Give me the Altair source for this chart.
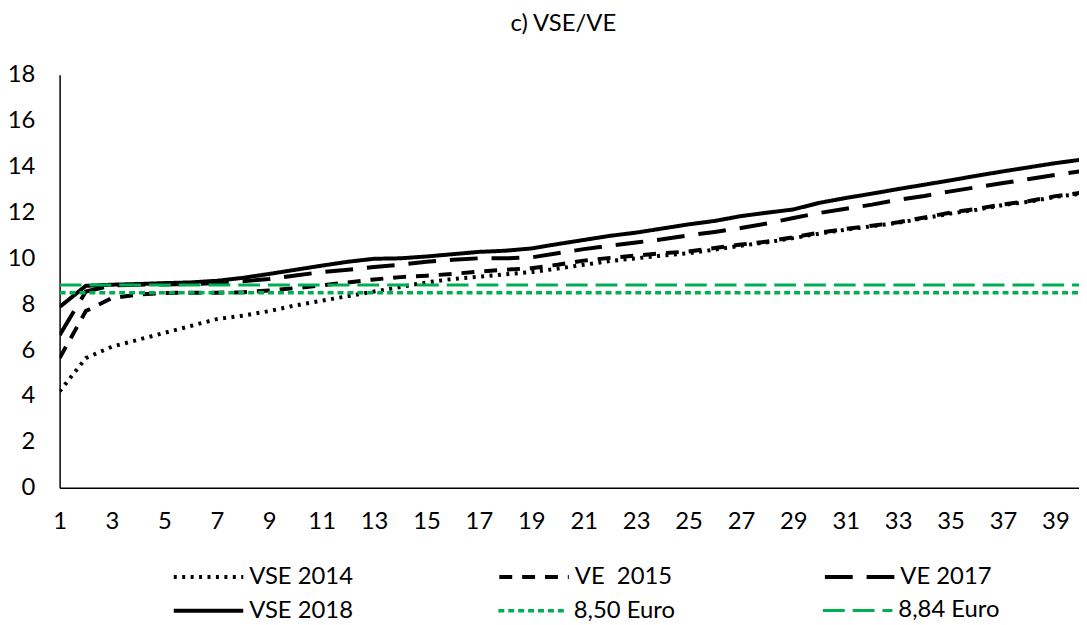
import altair as alt
import pandas as pd

# ---------------- data ----------------
x_vals = list(range(1, 41))
x_ticks = list(range(1, 40, 2))
y_ticks = list(range(0, 19, 2))

row1_names = ["VSE 2014", "VE \u00a02015", "VE 2017"]
row2_names = ["VSE 2018", "8,50 Euro", "8,84 Euro"]

vse_2014 = [4.2, 5.65, 6.15, 6.45, 6.75, 7.05, 7.35, 7.5, 7.7, 7.95,
            8.15, 8.35, 8.55, 8.75, 8.95, 9.1, 9.2, 9.3, 9.4, 9.55,
            9.72, 9.88, 10.0, 10.12, 10.22, 10.38, 10.55, 10.7, 10.88, 11.08,
            11.25, 11.4, 11.55, 11.75, 11.95, 12.12, 12.32, 12.47, 12.68, 12.82]
ve_2015 = [5.65, 7.7, 8.27, 8.42, 8.49, 8.5, 8.5, 8.52, 8.6, 8.7,
           8.82, 8.95, 9.08, 9.18, 9.24, 9.32, 9.42, 9.5, 9.57, 9.72,
           9.9, 10.02, 10.12, 10.22, 10.3, 10.45, 10.6, 10.73, 10.92, 11.12,
           11.28, 11.42, 11.57, 11.78, 11.99, 12.16, 12.35, 12.5, 12.71, 12.86]
ve_2017 = [6.65, 8.55, 8.82, 8.85, 8.86, 8.88, 8.92, 9.0, 9.1, 9.25,
           9.4, 9.5, 9.62, 9.72, 9.85, 9.94, 10.0, 10.0, 10.04, 10.22,
           10.4, 10.55, 10.69, 10.83, 11.0, 11.15, 11.32, 11.52, 11.76, 11.98,
           12.16, 12.34, 12.55, 12.72, 12.92, 13.1, 13.28, 13.46, 13.64, 13.8]
vse_2018 = [7.88, 8.8, 8.85, 8.88, 8.92, 8.95, 9.02, 9.15, 9.32, 9.5,
            9.68, 9.85, 9.98, 10.0, 10.08, 10.18, 10.28, 10.33, 10.43, 10.62,
            10.8, 10.98, 11.12, 11.3, 11.48, 11.63, 11.84, 11.99, 12.13, 12.42,
            12.63, 12.82, 13.02, 13.21, 13.4, 13.6, 13.79, 13.97, 14.15, 14.3]
euro_850 = 8.50
euro_884 = 8.84

# ---------------- build tables ----------------
def long_table(names, series_lists, field):
    rows = []
    for s, vals in zip(names, series_lists):
        for xv, yv in zip(x_vals, vals):
            rows.append({field: s, "x": xv, "y": yv})
    return pd.DataFrame(rows)

df1 = long_table(row1_names, [vse_2014, ve_2015, ve_2017], "Reihe1")
df2 = long_table(row2_names, [vse_2018, [euro_850] * len(x_vals), [euro_884] * len(x_vals)], "Reihe2")

FONT = "Lato"
FS = 24
GREEN = "#00B050"

colors1 = ["black", "black", "black"]
dashes1 = [[3, 5.5], [13, 10], [28, 14]]
widths1 = [4, 4, 4]
colors2 = ["black", GREEN, GREEN]
dashes2 = [[1, 0], [6, 4], [22, 8]]
widths2 = [4, 3, 3.5]


def make_legend(y_pos):
    return alt.Legend(
        title=None, orient="none", legendX=113, legendY=y_pos, columns=3,
        direction="horizontal",
        symbolType="stroke", symbolSize=4900, labelFont=FONT, labelFontSize=FS,
        labelColor="black", labelOffset=4, gridAlign="all", columnPadding=139,
        padding=0, labelLimit=300,
    )


x_enc = alt.X("x:Q", scale=alt.Scale(domain=[1, 39.9], nice=False, zero=False),
              axis=alt.Axis(values=x_ticks, format="d", grid=False, ticks=False,
                            domainColor="black", domainWidth=1.5, labelFont=FONT,
                            labelFontSize=FS, labelColor="black", labelPadding=22,
                            labelFlush=False, title=None))
y_enc = alt.Y("y:Q", scale=alt.Scale(domain=[0, 18], nice=False),
              axis=alt.Axis(values=y_ticks, grid=False, ticks=False,
                            domainColor="black", domainWidth=1.5, labelFont=FONT,
                            labelFontSize=FS, labelColor="black", labelPadding=25,
                            title=None))

leg1 = make_legend(469)
leg2 = make_legend(503)

layer1 = alt.Chart(df1).mark_line(clip=True, strokeCap="butt").encode(
    x=x_enc, y=y_enc,
    color=alt.Color("Reihe1:N", scale=alt.Scale(domain=row1_names, range=colors1), legend=leg1),
    strokeDash=alt.StrokeDash("Reihe1:N", scale=alt.Scale(domain=row1_names, range=dashes1), legend=leg1),
    strokeWidth=alt.StrokeWidth("Reihe1:N", scale=alt.Scale(domain=row1_names, range=widths1), legend=leg1),
)
layer2 = alt.Chart(df2).mark_line(clip=True, strokeCap="butt").encode(
    x=x_enc, y=y_enc,
    color=alt.Color("Reihe2:N", scale=alt.Scale(domain=row2_names, range=colors2), legend=leg2),
    strokeDash=alt.StrokeDash("Reihe2:N", scale=alt.Scale(domain=row2_names, range=dashes2), legend=leg2),
    strokeWidth=alt.StrokeWidth("Reihe2:N", scale=alt.Scale(domain=row2_names, range=widths2), legend=leg2),
)

chart = alt.layer(layer1, layer2).resolve_scale(
    color="independent", strokeDash="independent", strokeWidth="independent"
).resolve_legend(
    color="independent", strokeDash="independent", strokeWidth="independent"
).properties(
    width=1027,
    height=416,
    autosize=alt.AutoSizeParams(type="none"),
    padding={"left": 52, "top": 65, "right": 0, "bottom": 134},
    title=alt.TitleParams("c) VSE/VE", anchor="middle", font=FONT, fontSize=FS,
                          fontWeight="normal", color="black", offset=27, dx=-6),
).configure_view(strokeWidth=0)

chart.save("out.html", embed_options={"renderer": "svg", "actions": False})
